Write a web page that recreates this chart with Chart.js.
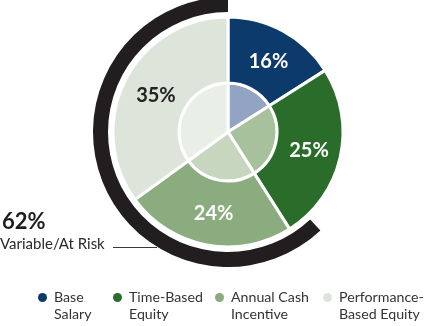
<!DOCTYPE html>
<html>
<head>
<meta charset="utf-8">
<script src="https://cdn.jsdelivr.net/npm/chart.js@4/dist/chart.umd.min.js"></script>
<style>
  html, body { margin: 0; padding: 0; background: #fff; }
  #wrap { position: relative; width: 424px; height: 326px; overflow: hidden; font-family: Lato, "Open Sans", sans-serif; }
  #payChart { position: absolute; left: 0; top: 0; }
  .risk-pct { position: absolute; left: 2px; top: 207px; font-size: 22px; font-weight: 700; color: #1d1d1d; }
  .risk-lbl { position: absolute; left: 0; top: 234px; font-size: 15px; color: #2a2a2a; }
  .risk-line { position: absolute; left: 113px; top: 247px; width: 44px; height: 1px; background: #3a3a3a; }
  .legend { position: absolute; top: 288px; font-size: 14.2px; line-height: 17px; color: #333; white-space: nowrap; }
  .legend .dot { position: absolute; left: -16px; top: 5px; width: 9px; height: 9px; border-radius: 50%; }
</style>
</head>
<body>
<div id="wrap">
  <canvas id="payChart" width="424" height="326"></canvas>
  <div class="risk-pct">62%</div>
  <div class="risk-lbl">Variable/At Risk</div>
  <div class="risk-line"></div>
</div>
<script>
// pay mix data
const categories = ["Base Salary", "Time-Based Equity", "Annual Cash Incentive", "Performance-Based Equity"];
const legendLines = [["Base", "Salary"], ["Time-Based", "Equity"], ["Annual Cash", "Incentive"], ["Performance-", "Based Equity"]];
const shares = [16, 25, 24, 35];
const variableShare = 62;

const outerColors = ["#0c3a6a", "#2a6d2b", "#8aac7e", "#dde5da"];
const innerColors = ["#93a3c3", "#a8c19d", "#c7d6bf", "#e9efe7"];
const labelColors = ["#fff", "#fff", "#fff", "#222"];

// draw the % text on the outer slices
const sliceLabels = {
  id: "sliceLabels",
  afterDatasetsDraw(chart) {
    const ctx = chart.ctx;
    const meta = chart.getDatasetMeta(2);
    ctx.save();
    ctx.font = "bold 20px Lato, 'Open Sans', sans-serif";
    ctx.textAlign = "center";
    ctx.textBaseline = "middle";
    meta.data.forEach((arc, i) => {
      const p = arc.tooltipPosition();
      ctx.fillStyle = labelColors[i];
      ctx.fillText(shares[i] + "%", p.x + 1, p.y + 1);
    });
    ctx.restore();
  },
};

new Chart(document.getElementById("payChart"), {
  type: "doughnut",
  data: {
    labels: categories,
    datasets: [
      {
        // black bracket for variable / at-risk pay
        data: [100 - variableShare, variableShare],
        backgroundColor: ["rgba(0,0,0,0)", "#221e1f"],
        borderWidth: 0,
        weight: 15,
      },
      {
        data: [100],
        backgroundColor: ["rgba(0,0,0,0)"],
        borderWidth: 0,
        weight: 5,
      },
      {
        data: shares,
        backgroundColor: outerColors,
        borderColor: "#fff",
        borderWidth: 3,
        weight: 66,
      },
      {
        data: shares,
        backgroundColor: innerColors,
        borderColor: "#fff",
        borderWidth: 3,
        weight: 49,
      },
    ],
  },
  options: {
    responsive: false,
    animation: false,
    events: [],
    cutout: 0,
    radius: 135,
    layout: { padding: { left: 32, right: 0, top: 0, bottom: 62 } },
    plugins: { legend: { display: false }, tooltip: { enabled: false } },
  },
  plugins: [sliceLabels],
});

// legend (two-line labels)
const legendX = [54, 129, 231, 339];
const wrap = document.getElementById("wrap");
categories.forEach((c, i) => {
  const item = document.createElement("div");
  item.className = "legend";
  item.style.left = legendX[i] + "px";
  item.innerHTML = '<span class="dot" style="background:' + outerColors[i] + '"></span>' + legendLines[i].join("<br>");
  wrap.appendChild(item);
});
</script>
</body>
</html>
